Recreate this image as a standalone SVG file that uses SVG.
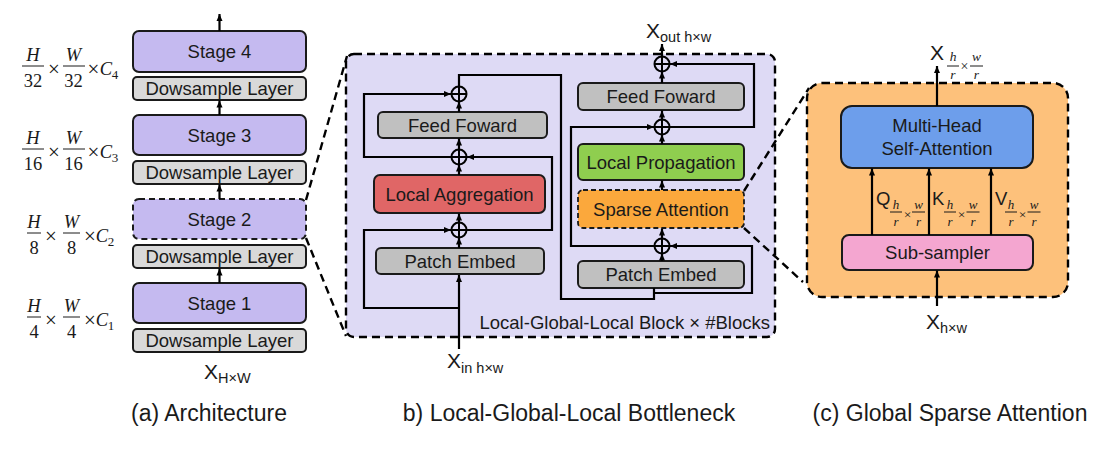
<svg xmlns="http://www.w3.org/2000/svg" width="1106" height="462" viewBox="0 0 1106 462">
<style>
.box{stroke:#1a1a1a;stroke-width:2}
.stage{fill:#c5baf0}
.ds{fill:#d9d9d9}
.gray{fill:#c0c0c0}
.lbl{font-family:"Liberation Sans",Arial,sans-serif;font-size:18.5px;fill:#1a1a1a;text-anchor:middle}
.cap{font-family:"Liberation Sans",Arial,sans-serif;font-size:23px;fill:#1a1a1a;text-anchor:middle}
.ln{fill:none;stroke:#000;stroke-width:2.2}
.arr{marker-end:url(#ah)}
.dash{fill:none;stroke:#000;stroke-width:2.4;stroke-dasharray:8 5}
.m{font-family:"Liberation Serif","DejaVu Serif",serif;fill:#1a1a1a;text-anchor:middle}
.mi{font-style:italic}
.fl{stroke:#1a1a1a;stroke-width:1}
.xs{font-family:"Liberation Sans",Arial,sans-serif;fill:#1a1a1a}
.op{fill:none;stroke:#000;stroke-width:2}
</style>
<defs>
<marker id="ah" markerUnits="userSpaceOnUse" markerWidth="8" markerHeight="8" refX="7" refY="4" orient="auto">
<path d="M0,1 L7,4 L0,7 z" fill="#000"/>
</marker>
<g id="oplus"><circle r="7.5" class="op"/><path d="M-7.5,0 H7.5 M0,-7.5 V7.5" class="op"/></g>
</defs>

<!-- (a) Architecture -->
<g id="stage4"><rect class="box stage" x="133" y="31" width="173" height="41" rx="6"/><text class="lbl" x="219.5" y="58" font-size="19">Stage 4</text></g>
<g id="ds4"><rect class="box ds" x="133" y="77" width="173" height="23" rx="4"/><text class="lbl" x="219.5" y="95">Dowsample Layer</text></g>
<g id="stage3"><rect class="box stage" x="133" y="115" width="173" height="40" rx="6"/><text class="lbl" x="219.5" y="142" font-size="19">Stage 3</text></g>
<g id="ds3"><rect class="box ds" x="133" y="161" width="173" height="23" rx="4"/><text class="lbl" x="219.5" y="179">Dowsample Layer</text></g>
<g id="stage2"><rect class="stage" x="133" y="199" width="173" height="40" rx="6" stroke="#1a1a1a" stroke-width="2" stroke-dasharray="6 4"/><text class="lbl" x="219.5" y="226" font-size="19">Stage 2</text></g>
<g id="ds2"><rect class="box ds" x="133" y="245" width="173" height="23" rx="4"/><text class="lbl" x="219.5" y="263">Dowsample Layer</text></g>
<g id="stage1"><rect class="box stage" x="133" y="283" width="173" height="40" rx="6"/><text class="lbl" x="219.5" y="310" font-size="19">Stage 1</text></g>
<g id="ds1"><rect class="box ds" x="133" y="329" width="173" height="23" rx="4"/><text class="lbl" x="219.5" y="347">Dowsample Layer</text></g>
<g id="xin-a"><text class="xs" x="204" y="379" font-size="21">X<tspan font-size="14.5" dy="4">H×W</tspan></text></g>

<!-- fraction labels -->
<g id="dim4" font-size="18.5">
<text class="m mi" x="33" y="61">H</text><line class="fl" x1="22" y1="66" x2="44" y2="66"/><text class="m" x="33" y="87">32</text>
<text class="m" x="54" y="76" font-size="21">×</text>
<text class="m mi" x="73.5" y="61">W</text><line class="fl" x1="63" y1="66" x2="85" y2="66"/><text class="m" x="73.5" y="87">32</text>
<text class="m" x="93.5" y="76" font-size="21">×</text><text class="m mi" x="106" y="75">C</text><text class="m" x="115" y="79" font-size="13">4</text>
</g>
<g id="dim3" font-size="18.5">
<text class="m mi" x="33" y="144">H</text><line class="fl" x1="22" y1="149" x2="44" y2="149"/><text class="m" x="33" y="170">16</text>
<text class="m" x="54" y="159" font-size="21">×</text>
<text class="m mi" x="73.5" y="144">W</text><line class="fl" x1="63" y1="149" x2="85" y2="149"/><text class="m" x="73.5" y="170">16</text>
<text class="m" x="93.5" y="159" font-size="21">×</text><text class="m mi" x="106" y="158">C</text><text class="m" x="115" y="162" font-size="13">3</text>
</g>
<g id="dim2" font-size="18.5">
<text class="m mi" x="34" y="228">H</text><line class="fl" x1="27" y1="233" x2="41" y2="233"/><text class="m" x="34" y="254">8</text>
<text class="m" x="51" y="243" font-size="21">×</text>
<text class="m mi" x="71.5" y="228">W</text><line class="fl" x1="63" y1="233" x2="80" y2="233"/><text class="m" x="71.5" y="254">8</text>
<text class="m" x="90" y="243" font-size="21">×</text><text class="m mi" x="102" y="242">C</text><text class="m" x="111" y="246" font-size="13">2</text>
</g>
<g id="dim1" font-size="18.5">
<text class="m mi" x="34" y="312">H</text><line class="fl" x1="27" y1="317" x2="41" y2="317"/><text class="m" x="34" y="338">4</text>
<text class="m" x="51" y="327" font-size="21">×</text>
<text class="m mi" x="71.5" y="312">W</text><line class="fl" x1="63" y1="317" x2="80" y2="317"/><text class="m" x="71.5" y="338">4</text>
<text class="m" x="90" y="327" font-size="21">×</text><text class="m mi" x="102" y="326">C</text><text class="m" x="111" y="330" font-size="13">1</text>
</g>

<!-- (b) block -->
<g id="lgl-block"><rect x="346" y="54" width="429" height="283" rx="8" fill="#dedaf5"/><rect x="346" y="54" width="429" height="283" rx="8" class="dash"/>
<text class="xs" x="770" y="329" font-size="18.5" text-anchor="end">Local-Global-Local Block × #Blocks</text></g>
<g id="pe-l"><rect class="box gray" x="376" y="248" width="168" height="26" rx="5"/><text class="lbl" x="460" y="268">Patch Embed</text></g>
<g id="la"><rect class="box" fill="#e06666" x="374" y="175" width="171" height="38" rx="6"/><text class="lbl" x="459.5" y="200.5">Local Aggregation</text></g>
<g id="ff-l"><rect class="box gray" x="378" y="112" width="169" height="26" rx="5"/><text class="lbl" x="462.5" y="131.5">Feed Foward</text></g>
<g id="pe-r"><rect class="box gray" x="578" y="261" width="166" height="27" rx="5"/><text class="lbl" x="661" y="281">Patch Embed</text></g>
<g id="sa"><rect fill="#fba83c" x="578" y="190" width="166" height="38" rx="5" stroke="#1a1a1a" stroke-width="1.8" stroke-dasharray="5 3"/><text class="lbl" x="661" y="215.5">Sparse Attention</text></g>
<g id="lp"><rect class="box" fill="#8fce4f" x="578" y="144" width="166" height="36" rx="5"/><text class="lbl" x="661" y="168.5">Local Propagation</text></g>
<g id="ff-r"><rect class="box gray" x="578" y="83" width="166" height="27" rx="5"/><text class="lbl" x="661" y="103">Feed Foward</text></g>
<g id="xin-b"><text class="xs" x="447" y="368" font-size="21">X<tspan font-size="14.5" dy="5">in h×w</tspan></text></g>
<g id="xout-b"><text class="xs" x="646" y="38" font-size="21">X<tspan font-size="14.5" dy="4">out h×w</tspan></text></g>
<g id="add1"><use href="#oplus" x="459" y="230"/></g>
<g id="add2"><use href="#oplus" x="459" y="157"/></g>
<g id="add3"><use href="#oplus" x="459" y="94"/></g>
<g id="add4"><use href="#oplus" x="662" y="246"/></g>
<g id="add5"><use href="#oplus" x="662" y="127"/></g>
<g id="add6"><use href="#oplus" x="662" y="64"/></g>

<!-- (c) block -->
<g id="gsa-block"><rect x="807" y="83" width="261" height="214" rx="15" fill="#fdc17b"/><rect x="807" y="83" width="261" height="214" rx="15" class="dash"/></g>
<g id="mhsa"><rect class="box" fill="#6d9eeb" x="841" y="106" width="192" height="62" rx="11"/><text class="lbl" x="937" y="132">Multi-Head</text><text class="lbl" x="937" y="155">Self-Attention</text></g>
<g id="subs"><rect class="box" fill="#f4a6d0" x="842" y="235" width="191" height="35" rx="7"/><text class="lbl" x="937.5" y="259">Sub-sampler</text></g>
<g id="xout-c">
<text class="xs" x="930" y="60" font-size="21">X</text>
<text class="m mi" x="953" y="61" font-size="13.5">h</text><line class="fl" x1="947" y1="66" x2="959" y2="66"/><text class="m mi" x="953" y="79" font-size="13.5">r</text>
<text class="m" x="964.5" y="71" font-size="14">×</text>
<text class="m mi" x="976.5" y="61" font-size="13.5">w</text><line class="fl" x1="970" y1="66" x2="983" y2="66"/><text class="m mi" x="976.5" y="79" font-size="13.5">r</text>
</g>
<g id="xin-c"><text class="xs" x="926" y="329" font-size="21">X<tspan font-size="14.5" dy="4">h×w</tspan></text></g>
<g id="q-lbl">
<text class="xs" x="876" y="205" font-size="18.5">Q</text>
<text class="m mi" x="896" y="209" font-size="13">h</text><line class="fl" x1="890" y1="212" x2="902" y2="212"/><text class="m mi" x="896" y="226" font-size="13">r</text>
<text class="m" x="907.5" y="219" font-size="13.5">×</text>
<text class="m mi" x="918.5" y="209" font-size="13">w</text><line class="fl" x1="912" y1="212" x2="925" y2="212"/><text class="m mi" x="918.5" y="226" font-size="13">r</text>
</g>
<g id="k-lbl">
<text class="xs" x="932" y="205" font-size="18.5">K</text>
<text class="m mi" x="950" y="209" font-size="13">h</text><line class="fl" x1="944" y1="212" x2="956" y2="212"/><text class="m mi" x="950" y="226" font-size="13">r</text>
<text class="m" x="961.5" y="219" font-size="13.5">×</text>
<text class="m mi" x="973" y="209" font-size="13">w</text><line class="fl" x1="966.5" y1="212" x2="979.5" y2="212"/><text class="m mi" x="973" y="226" font-size="13">r</text>
</g>
<g id="v-lbl">
<text class="xs" x="995" y="205" font-size="18.5">V</text>
<text class="m mi" x="1011" y="209" font-size="13">h</text><line class="fl" x1="1005" y1="212" x2="1017" y2="212"/><text class="m mi" x="1011" y="226" font-size="13">r</text>
<text class="m" x="1022.5" y="219" font-size="13.5">×</text>
<text class="m mi" x="1034" y="209" font-size="13">w</text><line class="fl" x1="1027.5" y1="212" x2="1040.5" y2="212"/><text class="m mi" x="1034" y="226" font-size="13">r</text>
</g>

<!-- captions -->
<g id="captions">
<text class="cap" x="209" y="421">(a) Architecture</text>
<text class="cap" x="569" y="421">b) Local-Global-Local Bottleneck</text>
<text class="cap" x="950" y="421">(c) Global Sparse Attention</text>
</g>

<!-- connectors -->
<g id="connectors">
<path class="ln arr" d="M219.5,31 V14"/>
<path class="ln arr" d="M219.5,115 V100.5"/>
<path class="ln arr" d="M219.5,199 V184.5"/>
<path class="ln arr" d="M219.5,283 V268.5"/>

<path class="ln arr" d="M459,349 V275"/>
<path class="ln arr" d="M459,308 H364 V230 H451"/>
<path class="ln arr" d="M459,248 V237.5"/>
<path class="ln arr" d="M459,222.5 V213.5"/>
<path class="ln arr" d="M466.5,230 H552 V157 H467"/>
<path class="ln arr" d="M459,175 V164.5"/>
<path class="ln arr" d="M451.5,157 H364 V94 H451"/>
<path class="ln arr" d="M459,149.5 V138.5"/>
<path class="ln arr" d="M459,112 V101.5"/>
<path class="ln" d="M459,86.5 V75 H561 V299 H654 V288"/>
<path class="ln arr" d="M654,293 H752 V246 H670"/>
<path class="ln arr" d="M662,261 V253.5"/>
<path class="ln arr" d="M662,238.5 V228.5"/>
<path class="ln arr" d="M654.5,246 H571 V127 H654"/>
<path class="ln arr" d="M662,190 V180.5"/>
<path class="ln arr" d="M662,144 V134.5"/>
<path class="ln arr" d="M669.5,127 H754 V64 H670"/>
<path class="ln arr" d="M662,119.5 V110.5"/>
<path class="ln arr" d="M662,83 V71.5"/>
<path class="ln arr" d="M662,56.5 V44"/>

<path class="ln arr" d="M937,106 V66"/>
<path class="ln arr" d="M872,235 V168.5"/>
<path class="ln arr" d="M929,235 V168.5"/>
<path class="ln arr" d="M991,235 V168.5"/>
<path class="ln arr" d="M937,306 V270.5"/>

<path class="dash" d="M306,200 L347,56"/>
<path class="dash" d="M306,238 L346,336"/>
<path class="dash" d="M744,191 L809,88"/>
<path class="dash" d="M744,228 L803,282"/>
</g>
</svg>
